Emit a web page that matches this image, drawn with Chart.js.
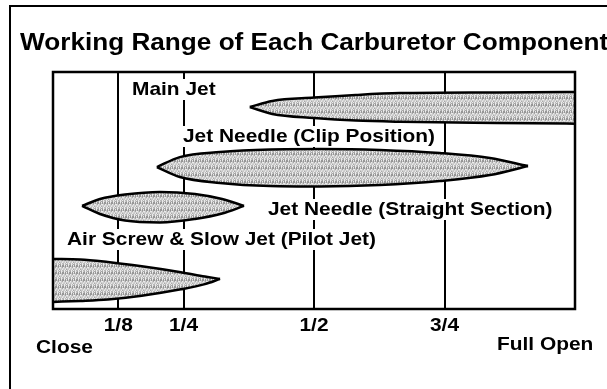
<!DOCTYPE html>
<html>
<head>
<meta charset="utf-8">
<script src="https://cdn.jsdelivr.net/npm/chart.js@4.4.1/dist/chart.umd.min.js"></script>
<style>
    html, body { margin: 0; padding: 0; background: #fff; overflow: hidden; }
    #rangeChart { display: block; }
</style>
</head>
<body>
<canvas id="rangeChart" width="607" height="389"></canvas>
<script>
// throttle opening (0 = closed, 1 = full open)
const throttleTicks = [0.125, 0.25, 0.5, 0.75];
const throttleTickLabels = ['1/8', '1/4', '1/2', '3/4'];
const throttleEnds = ['Close', 'Full Open'];

const chartTitle = 'Working Range of Each Carburetor Component';
const componentNames = [
    'Main Jet',
    'Jet Needle (Clip Position)',
    'Jet Needle (Straight Section)',
    'Air Screw & Slow Jet (Pilot Jet)'
];

// outlines of each working range: x = throttle opening, y = band height (0-100)
const mainJetX = [0.377, 0.42, 0.5, 0.58, 0.665, 0.85, 1.05];
const mainJetTop = [85.2, 87.8, 89.2, 90.3, 91.1, 91.4, 91.6];
const mainJetBottom = [85.2, 82.3, 80.6, 79.5, 79.0, 78.5, 78.1];

const clipX = [0.199, 0.243, 0.320, 0.416, 0.511, 0.626, 0.741, 0.837, 0.910];
const clipTop = [59.9, 64.1, 66.2, 67.3, 67.5, 67.1, 65.8, 63.7, 60.3];
const clipBottom = [59.9, 55.7, 53.2, 51.9, 51.7, 52.3, 54.0, 56.5, 60.3];

const straightX = [0.0556, 0.090, 0.138, 0.205, 0.272, 0.324, 0.366];
const straightTop = [43.5, 46.4, 48.3, 49.4, 48.5, 46.4, 43.5];
const straightBottom = [43.5, 40.1, 37.3, 36.5, 38.0, 40.3, 43.5];

const pilotX = [0, 0.052, 0.105, 0.17, 0.245, 0.291, 0.320];
const pilotTop = [21.1, 20.9, 19.8, 18.0, 15.5, 13.7, 12.7];
const pilotBottom = [3.0, 3.4, 4.0, 5.6, 8.3, 10.5, 12.7];

const FONT = '"Liberation Sans", Arial, sans-serif';

function makeStipple() {
    const tile = document.createElement('canvas');
    tile.width = 7;
    tile.height = 7;
    const g = tile.getContext('2d');
    for (let y = 0; y < 7; y++) {
        for (let x = 0; x < 7; x++) {
            const k = (x * 3 + y * 5 + ((x * y) % 4)) % 6;
            const v = 150 + k * 17;
            g.fillStyle = `rgb(${v}, ${v}, ${v})`;
            g.fillRect(x, y, 1, 1);
        }
    }
    return g.createPattern(tile, 'repeat');
}

function toPoints(xs, ys) {
    return xs.map((x, i) => ({ x: x, y: ys[i] }));
}

function buildDatasets() {
    const stipple = makeStipple();
    const shapes = [
        [mainJetX, mainJetTop, mainJetBottom],
        [clipX, clipTop, clipBottom],
        [straightX, straightTop, straightBottom],
        [pilotX, pilotTop, pilotBottom]
    ];
    const datasets = [];
    shapes.forEach(([xs, top, bottom], i) => {
        datasets.push({
            label: componentNames[i],
            data: toPoints(xs, top),
            fill: '+1',
            backgroundColor: stipple
        });
        datasets.push({
            label: componentNames[i] + ' (lower)',
            data: toPoints(xs, bottom),
            fill: false
        });
    });
    return datasets;
}

// draws text squeezed/stretched horizontally, returns drawn width
function drawText(ctx, text, x, y, size, sx, align) {
    ctx.save();
    ctx.font = `bold ${size}px ${FONT}`;
    ctx.textAlign = 'left';
    ctx.textBaseline = 'alphabetic';
    const w = ctx.measureText(text).width * sx;
    const left = align === 'center' ? x - w / 2 : x;
    ctx.translate(left, y);
    ctx.scale(sx, 1);
    ctx.fillStyle = '#000';
    ctx.fillText(text, 0, 0);
    ctx.restore();
    return w;
}

function textWidth(ctx, text, size, sx) {
    ctx.save();
    ctx.font = `bold ${size}px ${FONT}`;
    const w = ctx.measureText(text).width * sx;
    ctx.restore();
    return w;
}

const decorations = {
    id: 'decorations',
    beforeDraw(chart) {
        const ctx = chart.ctx;
        const area = chart.chartArea;
        const xs = chart.scales.x;

        // outer frame
        ctx.save();
        ctx.strokeStyle = '#000';
        ctx.lineWidth = 2;
        ctx.beginPath();
        ctx.moveTo(10, chart.height + 2);
        ctx.lineTo(10, 6);
        ctx.lineTo(chart.width + 2, 6);
        ctx.stroke();

        // throttle grid lines
        ctx.lineWidth = 2;
        throttleTicks.forEach(v => {
            const px = Math.round(xs.getPixelForValue(v));
            ctx.beginPath();
            ctx.moveTo(px, area.top);
            ctx.lineTo(px, area.bottom);
            ctx.stroke();
        });
        ctx.restore();

        drawText(ctx, chartTitle, 20, 50, 24, 1.09, 'left');

        // component labels sit on white so the grid lines break around them
        const labelPos = [[132, 95], [183, 142], [268, 215], [67, 245]];
        componentNames.forEach((name, i) => {
            const [lx, ly] = labelPos[i];
            const w = textWidth(ctx, name, 19, 1.1);
            ctx.fillStyle = '#fff';
            ctx.fillRect(lx - 2, ly - 16, w + 4, 21);
            drawText(ctx, name, lx, ly, 19, 1.1, 'left');
        });

        throttleTicks.forEach((v, i) => {
            drawText(ctx, throttleTickLabels[i], xs.getPixelForValue(v), 331, 19, 1.1, 'center');
        });
        drawText(ctx, throttleEnds[0], 36, 353, 19, 1.1, 'left');
        drawText(ctx, throttleEnds[1], 497, 350, 19, 1.1, 'left');
    },
    afterDatasetsDraw(chart) {
        const ctx = chart.ctx;
        const a = chart.chartArea;
        ctx.save();
        ctx.strokeStyle = '#000';
        ctx.lineWidth = 2.5;
        ctx.strokeRect(a.left, a.top, a.right - a.left, a.bottom - a.top);
        ctx.restore();
    }
};

const chartCtx = document.getElementById('rangeChart').getContext('2d');
const rangeChart = new Chart(chartCtx, {
    type: 'line',
    data: {
        datasets: buildDatasets()
    },
    options: {
        responsive: false,
        animation: false,
        layout: {
            padding: { left: 53, right: 32, top: 72, bottom: 80 }
        },
        scales: {
            x: { type: 'linear', min: 0, max: 1, display: false },
            y: { type: 'linear', min: 0, max: 100, display: false }
        },
        elements: {
            point: { radius: 0 },
            line: {
                borderColor: '#000',
                borderWidth: 2.5,
                cubicInterpolationMode: 'monotone'
            }
        },
        plugins: {
            legend: { display: false },
            tooltip: { enabled: false },
            filler: { drawTime: 'beforeDatasetsDraw' }
        }
    },
    plugins: [decorations]
});
</script>
</body>
</html>
